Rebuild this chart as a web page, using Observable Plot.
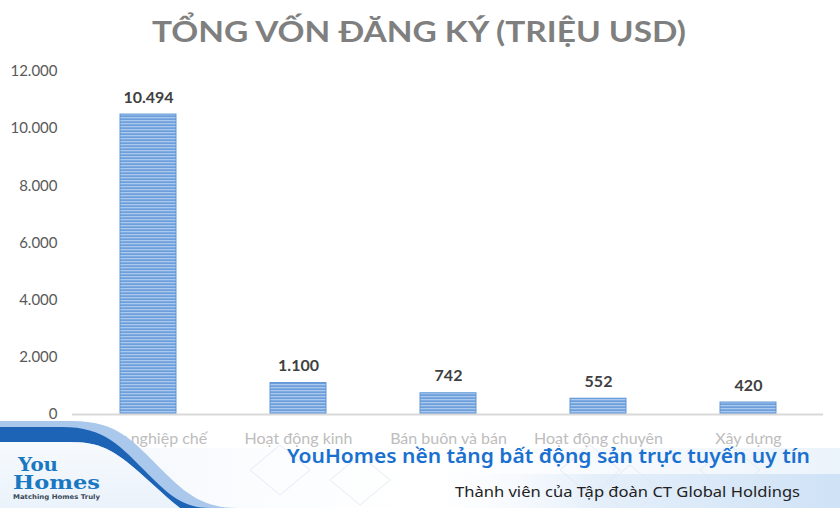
<!DOCTYPE html>
<html>
<head>
<meta charset="utf-8">
<script src="https://cdn.jsdelivr.net/npm/d3@7"></script>
<script src="https://cdn.jsdelivr.net/npm/@observablehq/plot@0.6"></script>
<style>
  html, body { margin: 0; padding: 0; background: #fff; }
  #wrap { position: relative; width: 840px; height: 508px; overflow: hidden; background: #fff; }
  #chart { position: absolute; left: 0; top: 0; }
  #overlay { position: absolute; left: 0; top: 0; pointer-events: none; }
</style>
</head>
<body>
<div id="wrap">
  <div id="chart"></div>
  <svg id="overlay" width="840" height="508" xmlns="http://www.w3.org/2000/svg">
    <defs>
      <linearGradient id="bannerBg" x1="0" y1="0" x2="1" y2="0">
        <stop offset="0" stop-color="#eef4fb" stop-opacity="0.9"/>
        <stop offset="0.5" stop-color="#ffffff" stop-opacity="0.6"/>
        <stop offset="1" stop-color="#e6f0fa" stop-opacity="0.8"/>
      </linearGradient>
      <linearGradient id="bandRight" x1="0" y1="0" x2="1" y2="0">
        <stop offset="0" stop-color="#ffffff" stop-opacity="0"/>
        <stop offset="0.4" stop-color="#e3eefa" stop-opacity="0.9"/>
        <stop offset="1" stop-color="#cfe2f6" stop-opacity="1"/>
      </linearGradient>
      <linearGradient id="logoBg" x1="0" y1="0" x2="0" y2="1">
        <stop offset="0" stop-color="#f7fafd"/>
        <stop offset="1" stop-color="#eaf2fb"/>
      </linearGradient>
    </defs>
    <text x="419" y="42" text-anchor="middle" font-family="Lato" font-weight="700" font-size="29" fill="#7f7f7f" textLength="534" lengthAdjust="spacingAndGlyphs">TỔNG VỐN ĐĂNG KÝ (TRIỆU USD)</text>
    <!-- banner background -->
    <rect x="0" y="448" width="840" height="60" fill="url(#bannerBg)"/>
    <rect x="430" y="474" width="410" height="34" fill="url(#bandRight)"/>
    <g fill="none" stroke="#dfe8f3" stroke-width="1" opacity="0.8">
      <path d="M560,470 L590,445 L620,470 L590,495 Z"/>
      <path d="M600,490 L630,465 L660,490 L630,515 Z"/>
      <path d="M330,480 L360,455 L390,480 L360,505 Z"/>
      <path d="M700,470 L730,445 L760,470 L730,495 Z"/>
      <path d="M250,470 L280,445 L310,470 L280,495 Z"/>
    </g>
    <!-- swoosh -->
    <path d="M0,421 L72,421 C117,421 132,440 162,470 C187,495 204,508 238,508 L0,508 Z" fill="#a9c8ec"/>
    <path d="M0,427 L62,427 C105,427 120,446 148,474 C170,496 184,508 210,508 L180,508 C162,494 147,478 127,462 C102,442 87,442 60,442 L0,442 Z" fill="#1d63b6"/>
    <path d="M0,442 L60,442 C87,442 102,442 127,462 C147,478 162,494 180,508 L0,508 Z" fill="url(#logoBg)"/>
    <!-- logo -->
    <text x="18" y="471" font-family="DejaVu Serif" font-weight="700" font-size="18" fill="#1a78c2" textLength="40" lengthAdjust="spacingAndGlyphs">You</text>
    <text x="13" y="489" font-family="DejaVu Serif" font-weight="700" font-size="18" fill="#1a78c2" textLength="87" lengthAdjust="spacingAndGlyphs">Homes</text>
    <text x="13" y="499" font-family="DejaVu Sans" font-weight="700" font-size="6.5" fill="#3a4a5a" textLength="87" lengthAdjust="spacingAndGlyphs">Matching Homes Truly</text>
    <!-- taglines -->
    <text x="287" y="463" font-family="Noto Sans" font-weight="600" font-size="19" fill="#1a70d0" textLength="523" lengthAdjust="spacingAndGlyphs">YouHomes nền tảng bất động sản trực tuyến uy tín</text>
    <text x="455" y="497" font-family="Noto Sans" font-size="14.5" fill="#222" textLength="345" lengthAdjust="spacingAndGlyphs">Thành viên của Tập đoàn CT Global Holdings</text>
  </svg>
</div>
<script>
const categories = ["Công nghiệp chế", "Hoạt động kinh", "Bán buôn và bán", "Hoạt động chuyên", "Xây dựng"];
const values = [10494, 1100, 742, 552, 420];
const yTicks = [0, 2000, 4000, 6000, 8000, 10000, 12000];

const vn = d3.formatLocale({decimal: ",", thousands: ".", grouping: [3], currency: ["", ""]});
const fmt = vn.format(",");

const data = categories.map((c, i) => ({category: c, value: values[i]}));

const chart = Plot.plot({
  width: 840,
  height: 460,
  marginTop: 71,
  marginBottom: 46,
  marginLeft: 72,
  marginRight: 17,
  style: {fontFamily: "Lato", background: "transparent"},
  x: {domain: categories, paddingInner: 0.63, paddingOuter: 0.315, label: null},
  y: {domain: [0, 12000], label: null},
  marks: [
    Plot.axisY({ticks: yTicks, tickSize: 0, tickPadding: 15, tickFormat: fmt, fontSize: 15, fill: "#595959"}),
    Plot.axisX({tickSize: 0, tickPadding: 18, fontSize: 16, fill: "#bdbdbd"}),
    Plot.barY(data, {x: "category", y: "value", fill: "url(#stripes)", stroke: "#5f97d8", strokeWidth: 1}),
    Plot.ruleY([0], {stroke: "#d9d9d9", strokeWidth: 2}),
    Plot.text(data, {x: "category", y: "value", text: d => fmt(d.value), dy: -17, fontSize: 16, fontWeight: "bold", fill: "#404040"})
  ]
});

const defs = d3.select(chart).insert("defs", ":first-child");
const pat = defs.append("pattern")
  .attr("id", "stripes")
  .attr("patternUnits", "userSpaceOnUse")
  .attr("width", 6).attr("height", 3);
pat.append("rect").attr("width", 6).attr("height", 3).attr("fill", "#6c9edc");
pat.append("rect").attr("y", 0).attr("width", 6).attr("height", 1.3).attr("fill", "#abc9ed");

document.getElementById("chart").appendChild(chart);
</script>
</body>
</html>
